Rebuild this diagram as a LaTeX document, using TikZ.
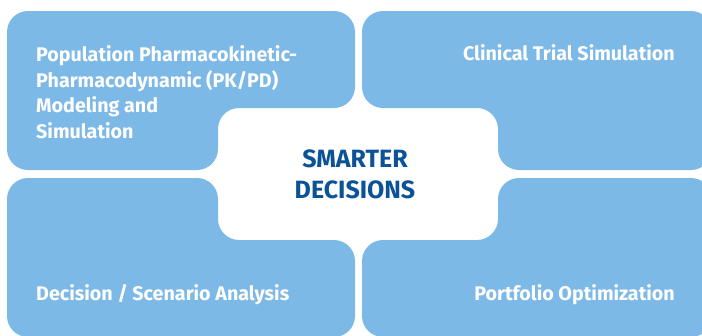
\documentclass[tikz,border=0pt]{standalone}
\usepackage{fontspec}
\setmainfont{Fira Sans}
\usetikzlibrary{positioning}
\definecolor{boxblue}{HTML}{7DB9E6}
\definecolor{deepblue}{HTML}{0B5296}

\begin{document}
\begin{tikzpicture}[x=1pt,y=-1pt,
  quad/.style={fill=boxblue,rounded corners=21pt},
  item text/.style={text=white,inner sep=0pt,font=\bfseries\fontsize{19.7}{25.6}\selectfont},
  core text/.style={text=deepblue,inner sep=0pt,align=center,font=\bfseries\fontsize{25}{31.6}\selectfont}]

\useasboundingbox (0,0) rectangle (702,335);
\clip (0,0) rectangle (702,335);

\fill[quad] (7,11) -- (355,11) -- (355,108) -- (218,108) -- (218,170) -- (7,170) -- cycle;
\fill[quad] (362,11) -- (712,11) -- (712,170) -- (498,170) -- (498,108) -- (362,108) -- cycle;
\fill[quad] (7,178) -- (218,178) -- (218,240) -- (355,240) -- (355,337) -- (7,337) -- cycle;
\fill[quad] (362,240) -- (498,240) -- (498,178) -- (712,178) -- (712,337) -- (362,337) -- cycle;

\node[item text,anchor=north west,align=left] (pkpd) at (36,45.5)
  {Population Pharmacokinetic-\\Pharmacodynamic (PK/PD)\\Modeling and\\Simulation};
\node[item text,anchor=base east] (trial) at (675,60) {Clinical Trial Simulation};
\node[item text,anchor=base west] (scenario) at (36,300) {Decision / Scenario Analysis};
\node[item text,anchor=base east] (portfolio) at (675,300) {Portfolio Optimization};

\node[core text] (core) at (355,174.5) {SMARTER\\DECISIONS};
\end{tikzpicture}
\end{document}
